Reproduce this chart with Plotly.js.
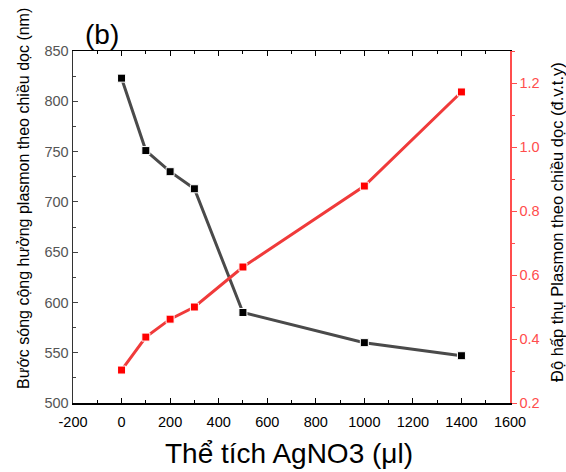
<!DOCTYPE html>
<html><head><meta charset="utf-8">
<script src="https://cdn.plot.ly/plotly-3.0.1.min.js"></script>
<style>html,body{margin:0;padding:0;background:#fff}</style>
</head><body><div id="chart" style="width:566px;height:472px"></div>
<script>
const volume = [0, 100, 200, 300, 500, 1000, 1400];
const wavelength = [823, 751, 730, 713, 590, 560, 547];
const absorbance = [0.303, 0.406, 0.462, 0.500, 0.625, 0.878, 1.172];
const xTicks = [-200, 0, 200, 400, 600, 800, 1000, 1200, 1400, 1600];
const xTickText = ['-200', '0', '200', '400', '600', '800', '1000', '1200', '1400', '1600'];
const y2Ticks = [0.2, 0.4, 0.6, 0.8, 1.0, 1.2];
const y2TickText = ['0.2', '0.4', '0.6', '0.8', '1.0', '1.2'];

const F = 'Liberation Sans, Arial, sans-serif';
const traces = [
  {x: volume, y: absorbance, yaxis: 'y2', mode: 'lines+markers',
   line: {color: '#f03a3a', width: 3},
   marker: {symbol: 'square', size: 8, color: '#ff0000', line: {color: '#ffffff', width: 1}}},
  {x: volume, y: wavelength, mode: 'lines+markers',
   line: {color: '#4a4a4a', width: 3},
   marker: {symbol: 'square', size: 8, color: '#000000', line: {color: '#ffffff', width: 1}}}
];
const layout = {
  width: 566, height: 472,
  margin: {l: 73, r: 56, t: 51, b: 69},
  showlegend: false,
  paper_bgcolor: '#fff', plot_bgcolor: '#fff',
  font: {family: F, size: 14, color: '#000'},
  xaxis: {range: [-200, 1600], tickvals: xTicks, ticktext: xTickText,
    ticks: 'inside', ticklen: 5, tickcolor: '#000', showgrid: false, zeroline: false,
    showline: true, linecolor: '#000', linewidth: 1.5, mirror: 'ticks',
    minor: {dtick: 100, ticks: 'inside', ticklen: 3, tickcolor: '#000'},
    tickfont: {size: 14.5, color: '#000'}, ticklabelstandoff: 5},
  yaxis: {range: [500, 850], dtick: 50, ticks: 'inside', ticklen: 5, tickcolor: '#444',
    showgrid: false, zeroline: false, showline: true, linecolor: '#333', linewidth: 1.5,
    minor: {dtick: 25, ticks: 'inside', ticklen: 3, tickcolor: '#444'},
    tickfont: {size: 14.5, color: '#555'}},
  yaxis2: {range: [0.2, 1.3], overlaying: 'y', side: 'right', tickvals: y2Ticks, ticktext: y2TickText,
    ticks: 'outside', ticklen: 5, tickcolor: '#ff4d4d', showgrid: false, zeroline: false,
    showline: true, linecolor: '#ff4d4d', linewidth: 1.5,
    minor: {dtick: 0.1, ticks: 'outside', ticklen: 3, tickcolor: '#ff4d4d'},
    tickfont: {size: 14.5, color: '#ff4d4d'}},
  annotations: [
    {text: '(b)', xref: 'paper', yref: 'paper', x: 0, y: 1, xanchor: 'left', yanchor: 'bottom',
     xshift: 10, yshift: -1, showarrow: false, font: {size: 28, color: '#000'}},
    {text: 'Thể tích AgNO3 (μl)', xref: 'paper', yref: 'paper', x: 0.5, y: 0, xanchor: 'center', yanchor: 'middle',
     xshift: -3, yshift: -50, showarrow: false, font: {size: 28, color: '#000'}},
    {text: 'Bước sóng cộng hưởng plasmon theo chiều dọc (nm)', xref: 'paper', yref: 'paper', x: 0, y: 0.5,
     xanchor: 'center', yanchor: 'middle', textangle: -90, xshift: -50, yshift: 28,
     showarrow: false, font: {size: 16, color: '#000'}},
    {text: 'Độ hấp thụ Plasmon theo chiều dọc (đ.v.t.y)', xref: 'paper', yref: 'paper', x: 1, y: 0.5,
     xanchor: 'center', yanchor: 'middle', textangle: -90, xshift: 47, yshift: 5,
     showarrow: false, font: {size: 16.5, color: '#000'}}
  ]
};
Plotly.newPlot('chart', traces, layout, {displayModeBar: false, staticPlot: true});
</script></body></html>
